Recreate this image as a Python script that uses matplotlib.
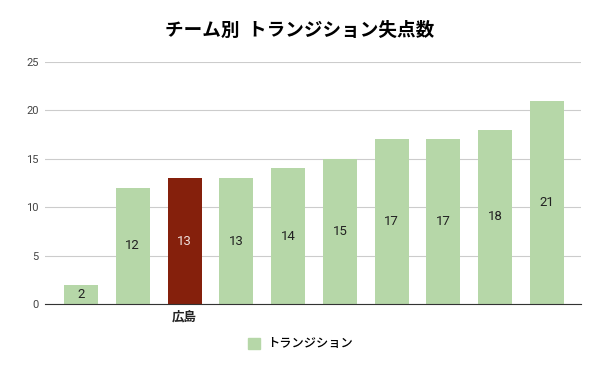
import matplotlib
matplotlib.use('Agg')
import matplotlib.pyplot as plt
from matplotlib.patches import Patch
import numpy as np

plt.rcParams['font.family'] = ['Roboto', 'Noto Sans CJK JP', 'DejaVu Sans']

# data
teams = ['', '', '広島', '', '', '', '', '', '', '']
points = [2, 12, 13, 13, 14, 15, 17, 17, 18, 21]
highlight = 2
series_name = 'トランジション'

green = '#b6d7a8'
red = '#85200c'

fig = plt.figure(figsize=(6, 3.71), dpi=100)
ax = fig.add_axes([0.075, 0.1806, 0.8933, 0.6523])

x = np.arange(len(points))
colors = [red if i == highlight else green for i in x]
bars = ax.bar(x, points, width=0.656, color=colors, zorder=3)

for i, (b, v) in enumerate(zip(bars, points)):
    ax.text(b.get_x() + b.get_width() / 2, v / 2, str(v), ha='center', va='center',
            fontsize=9.5, color='#f0e0dc' if i == highlight else '#222222', zorder=4)

ax.set_ylim(0, 25)
ax.set_yticks([0, 5, 10, 15, 20, 25])
ax.set_xlim(-0.695, 9.656)
ax.set_xticks(x)
ax.set_xticklabels(teams, fontsize=9, fontweight='bold', color='#222222',
                   family=['Noto Sans CJK JP', 'DejaVu Sans'])
ax.tick_params(axis='both', length=0)
ax.tick_params(axis='y', labelsize=8, labelcolor='#444444', pad=4.5)
ax.tick_params(axis='x', pad=5)
ax.grid(axis='y', color='#cccccc', linewidth=0.8, zorder=0)
for s in ['top', 'right', 'left']:
    ax.spines[s].set_visible(False)
ax.spines['bottom'].set_color('#333333')
ax.spines['bottom'].set_zorder(5)

fig.text(0.5, 0.917, 'チーム別  トランジション失点数', ha='center', va='center',
         fontsize=13.4, fontweight='bold', color='#000000',
         family=['Noto Sans CJK JP', 'DejaVu Sans'])

fig.legend(handles=[Patch(color=green, label=series_name)], loc='center',
           bbox_to_anchor=(0.5, 0.073), frameon=False,
           handlelength=1.0, handleheight=1.0, handletextpad=0.55,
           prop={'family': ['Noto Sans CJK JP', 'DejaVu Sans'], 'weight': 'medium', 'size': 8.8})

fig.savefig('out.png', dpi=100)
